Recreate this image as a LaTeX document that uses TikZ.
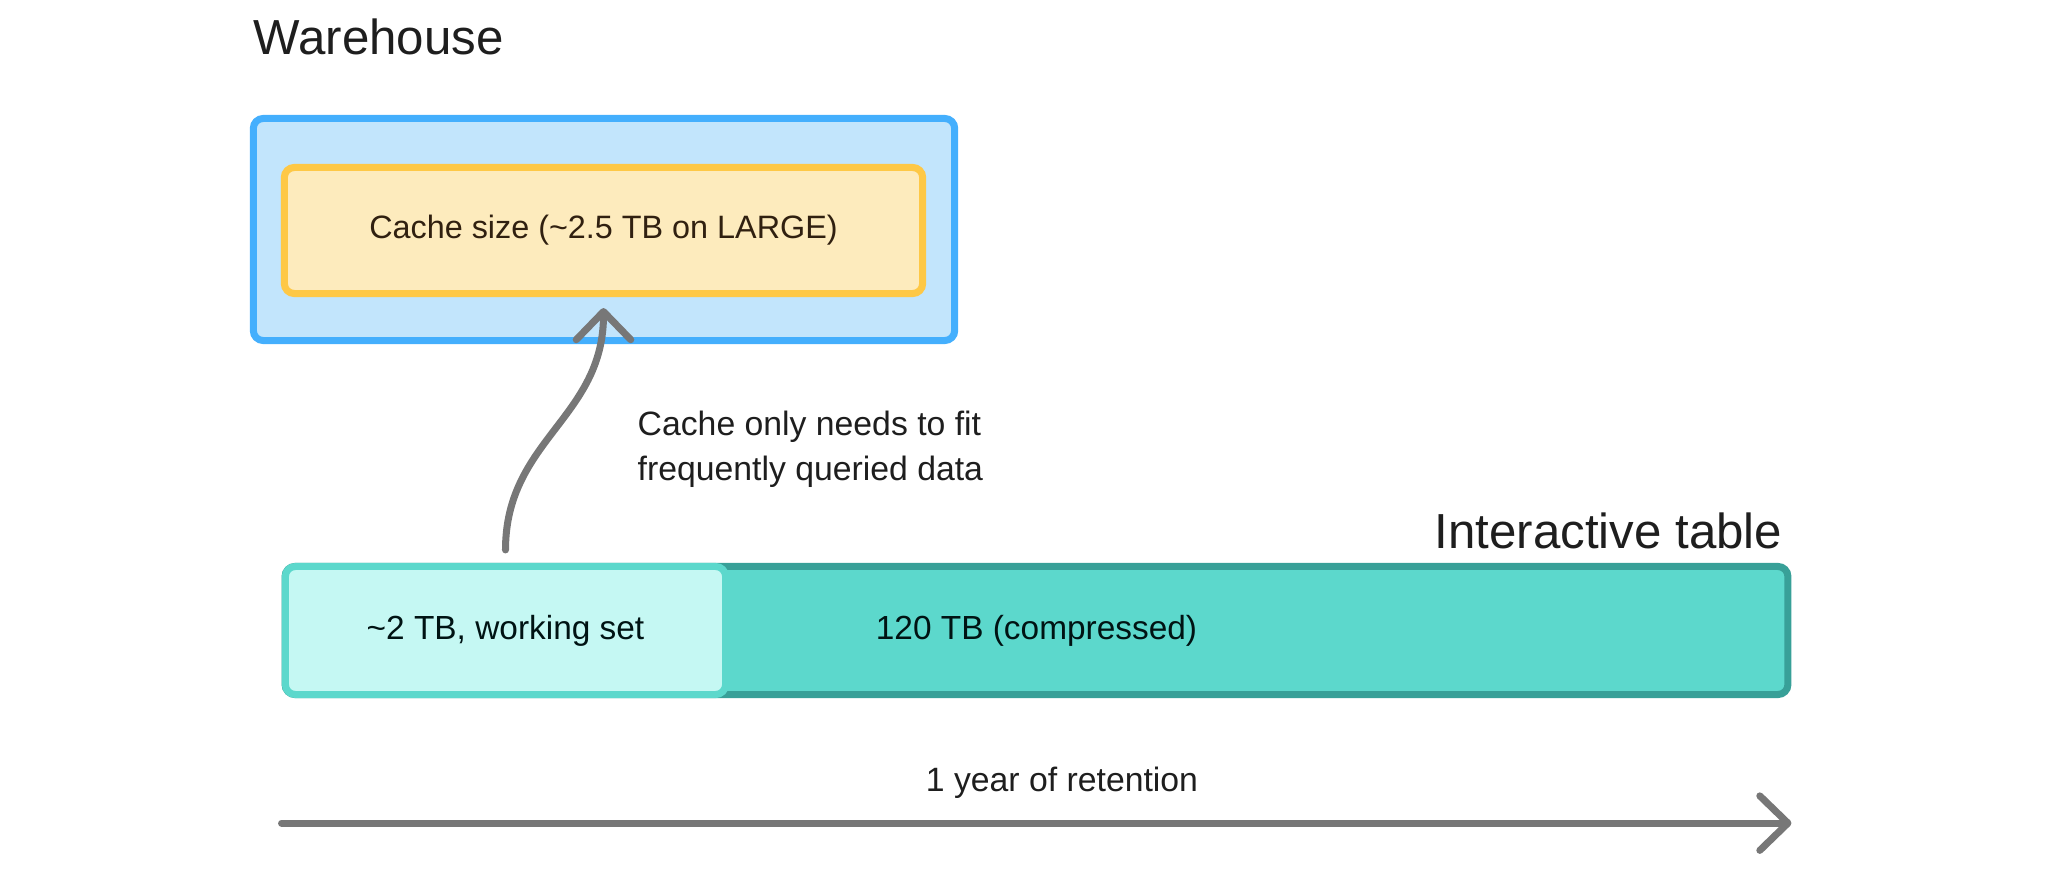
\documentclass[tikz,border=0pt]{standalone}
\usepackage{fontspec}
\setmainfont{Liberation Sans}
\usepackage{tikz}
\usetikzlibrary{arrows.meta, positioning, calc}
\usepackage{xcolor}
\definecolor{whfill}{HTML}{C2E5FC}
\definecolor{whline}{HTML}{44AFFD}
\definecolor{cachefill}{HTML}{FDEBBD}
\definecolor{cacheline}{HTML}{FEC846}
\definecolor{tblfill}{HTML}{5CD8CC}
\definecolor{tblline}{HTML}{38A098}
\definecolor{wsfill}{HTML}{C5F8F3}
\definecolor{flowgray}{HTML}{777777}
\definecolor{inkdark}{HTML}{1E1E1E}

\begin{document}
\begin{tikzpicture}[
    x=0.01cm, y=-0.01cm,
    title/.style = {inner sep=0pt, text=inkdark, font=\fontsize{14}{16}\selectfont},
    lbl/.style = {inner sep=0pt, text=inkdark, font=\fontsize{9.6}{12.8}\selectfont},
    whbox/.style = {rectangle, draw=whline, fill=whfill, line width=2pt, rounded corners=0.1cm, minimum width=7.01cm, minimum height=2.22cm},
    cachebox/.style = {rectangle, draw=cacheline, fill=cachefill, line width=2pt, rounded corners=0.1cm, minimum width=6.38cm, minimum height=1.26cm, text=black!75!brown, font=\fontsize{9.2}{12}\selectfont},
    tblbox/.style = {rectangle, draw=tblline, fill=tblfill, line width=2pt, rounded corners=0.1cm, minimum width=15.02cm, minimum height=1.28cm, text=black!85!teal, font=\fontsize{9.5}{12}\selectfont},
    wsbox/.style = {rectangle, draw=tblfill, fill=wsfill, line width=2pt, rounded corners=0.1cm, minimum width=4.40cm, minimum height=1.28cm, text=black!85!teal, font=\fontsize{9.5}{12}\selectfont},
    flow/.style = {draw=flowgray, line width=2pt, line cap=round, -{Straight Barb[length=8pt, width=15.5pt, round]}}
]
\useasboundingbox (0,0) rectangle (2048,876);

\node (wh_title) [title, anchor=base west] at (253,55) {Warehouse};
\node (wh) [whbox] at (604,229.5) {};
\node (cache) [cachebox] at (603.5,230.5) {Cache size (\textasciitilde2.5 TB on LARGE)};

\node (tbl_title) [title, anchor=base east] at (1783,548) {Interactive table};
\node (tbl) [tblbox] at (1036.5,630.5) {120 TB (compressed)};
\node (ws) [wsbox] at (505.5,630.5) {\textasciitilde2 TB, working set};

\node (fit_note) [lbl, anchor=west, align=left] at (637,449) {Cache only needs to fit\\frequently queried data};

\draw [flow] ([yshift=0.13cm]ws.north) .. controls +(0,-110) and +(0,110) .. ([yshift=-0.11cm]cache.south);

\draw [flow] ([yshift=-1.25cm]tbl.south west) -- ([yshift=-1.25cm]tbl.south east);
\node (ret) [lbl, anchor=base] at (1062,791) {1 year of retention};

\end{tikzpicture}
\end{document}
